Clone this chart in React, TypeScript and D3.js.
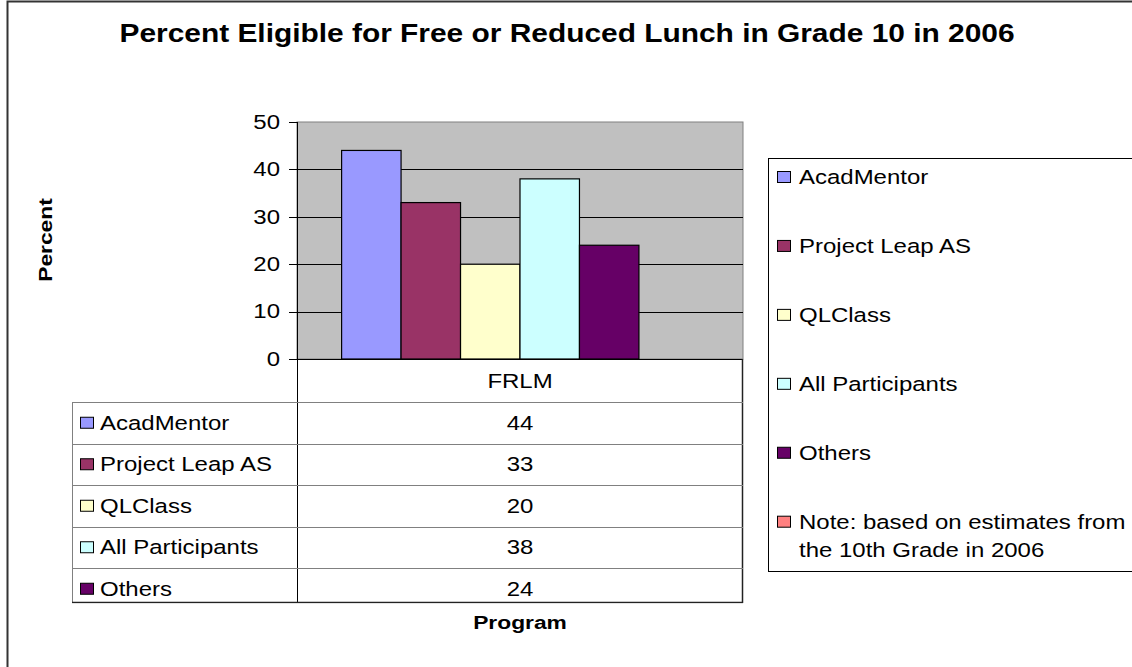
import React from 'react';
import * as d3 from 'd3';

const title = 'Percent Eligible for Free or Reduced Lunch in Grade 10 in 2006';
const categories = ['FRLM'];
const seriesNames = ['AcadMentor', 'Project Leap AS', 'QLClass', 'All Participants', 'Others', 'Note: based on estimates from'];
const noteSecondLine = 'the 10th Grade in 2006';
const values: (number | null)[] = [44, 33, 20, 38, 24, null];
const seriesColors = ['#9999FF', '#993366', '#FFFFCC', '#CCFFFF', '#660066', '#FF8080'];
const yTicks = [0, 10, 20, 30, 40, 50];

const FONT = '"Liberation Sans", Arial, sans-serif';
const SX = 1.17;

// old GDI text renders wide, so stretch along the baseline
const T: React.FC<{ x: number; y: number; size?: number; bold?: boolean; anchor?: string; rotate?: number; sx?: number; children: React.ReactNode }> =
  ({ x, y, size = 20.5, bold = false, anchor = 'start', rotate = 0, sx = SX, children }) => (
    <text
      transform={`translate(${x},${y}) rotate(${rotate}) scale(${sx},1)`}
      fontFamily={FONT}
      fontSize={size}
      fontWeight={bold ? 'bold' : 'normal'}
      textAnchor={anchor}
      dominantBaseline="central"
      fill="#000"
    >
      {children}
    </text>
  );

const App: React.FC = () => {
  const plot = { left: 297, right: 743, top: 122, bottom: 359 };
  const table = { left: 72, header: 402, bottom: 603 };

  const y = d3.scaleLinear().domain([0, 50]).range([plot.bottom, plot.top]);
  const xCat = d3.scaleBand().domain(categories).range([plot.left, plot.right]);
  const xSeries = d3.scaleBand().domain(seriesNames).range([0, xCat.bandwidth()]).paddingInner(0).paddingOuter(0.75);

  const tableSeries = seriesNames.slice(0, 5);
  const rowStep = 41.5;
  const rowY = d3.scaleBand().domain(tableSeries).range([table.header, table.header + rowStep * tableSeries.length]);
  const legendY = d3.scalePoint().domain(seriesNames).range([177, 521.7]);

  const cx = (plot.left + plot.right) / 2;

  return (
    <svg width={1132} height={667} style={{ position: 'absolute', left: 0, top: 0, display: 'block', background: '#fff' }}>
      <defs>
        <clipPath id="tblclip">
          <rect x={0} y={0} width={1132} height={table.bottom + 0.5} />
        </clipPath>
      </defs>
      {/* chart area border */}
      <path d="M7.5,700 V1.5 H1200" fill="none" stroke="#333" strokeWidth={2} />

      <T x={567} y={33} size={26} bold sx={1.15} anchor="middle">{title}</T>

      {/* plot area */}
      <rect x={plot.left} y={plot.top} width={plot.right - plot.left} height={plot.bottom - plot.top} fill="#C0C0C0" stroke="#808080" strokeWidth={1} />
      {yTicks.filter(t => t > 0 && t < 50).map(t => (
        <line key={t} x1={plot.left} x2={plot.right} y1={Math.round(y(t)) + 0.5} y2={Math.round(y(t)) + 0.5} stroke="#000" />
      ))}

      {/* bars */}
      {categories.map(c => (
        <g key={c} transform={`translate(${xCat(c)},0)`}>
          {seriesNames.map((s, i) => values[i] == null ? null : (
            <rect key={s} x={xSeries(s)!} y={y(values[i] as number)} width={xSeries.bandwidth()} height={y(0) - y(values[i] as number)}
              fill={seriesColors[i]} stroke="#000" strokeWidth={1.2} />
          ))}
        </g>
      ))}

      {/* axes */}
      <line x1={plot.left + 0.5} x2={plot.left + 0.5} y1={plot.top} y2={table.header} stroke="#000" />
      <line x1={plot.left} x2={plot.right} y1={plot.bottom + 0.5} y2={plot.bottom + 0.5} stroke="#000" />
      {yTicks.map(t => (
        <g key={t}>
          <line x1={289} x2={plot.left} y1={Math.round(y(t)) + 0.5} y2={Math.round(y(t)) + 0.5} stroke="#000" />
          <T x={280} y={y(t)} anchor="end">{t}</T>
        </g>
      ))}

      {/* data table */}
      <g clipPath="url(#tblclip)">
        <line x1={plot.right - 0.5} x2={plot.right - 0.5} y1={plot.bottom} y2={table.bottom} stroke="#222" strokeWidth={1.5} />
        <line x1={plot.left + 0.5} x2={plot.left + 0.5} y1={table.header} y2={table.bottom} stroke="#000" />
        <line x1={table.left + 0.5} x2={table.left + 0.5} y1={table.header} y2={table.bottom} stroke="#808080" />
        <line x1={table.left} x2={plot.right} y1={table.header + 0.5} y2={table.header + 0.5} stroke="#808080" />
        {categories.map(c => (
          <T key={c} x={xCat(c)! + xCat.bandwidth() / 2} y={(plot.bottom + table.header) / 2 + 1} anchor="middle">{c}</T>
        ))}
        {tableSeries.map((s, i) => {
          const top = rowY(s)!;
          const mid = top + rowY.bandwidth() / 2;
          return (
            <g key={s}>
              {i > 0 && <line x1={table.left} x2={plot.right} y1={Math.round(top) + 0.5} y2={Math.round(top) + 0.5} stroke="#808080" />}
              <rect x={80.5} y={mid - 5.5} width={13} height={11} fill={seriesColors[i]} stroke="#000" />
              <T x={100} y={mid}>{s}</T>
              <T x={xCat(categories[0])! + xCat.bandwidth() / 2} y={mid} anchor="middle">{values[i]}</T>
            </g>
          );
        })}
        <line x1={table.left} x2={plot.right} y1={table.bottom - 0.5} y2={table.bottom - 0.5} stroke="#222" strokeWidth={1.5} />
      </g>

      {/* axis titles */}
      <T x={45.5} y={240} size={19} bold rotate={-90} sx={1.2} anchor="middle">Percent</T>
      <T x={cx} y={622} size={19} bold sx={1.2} anchor="middle">Program</T>

      {/* legend */}
      <rect x={768.5} y={158.5} width={420} height={413} fill="#fff" stroke="#000" />
      {seriesNames.map((s, i) => {
        const ly = legendY(s)!;
        return (
          <g key={s}>
            <rect x={777.5} y={ly - 5.5} width={13} height={11} fill={seriesColors[i]} stroke="#000" />
            <T x={799} y={ly}>{s}</T>
            {i === seriesNames.length - 1 && <T x={799} y={ly + 28}>{noteSecondLine}</T>}
          </g>
        );
      })}
    </svg>
  );
};

export default App;
